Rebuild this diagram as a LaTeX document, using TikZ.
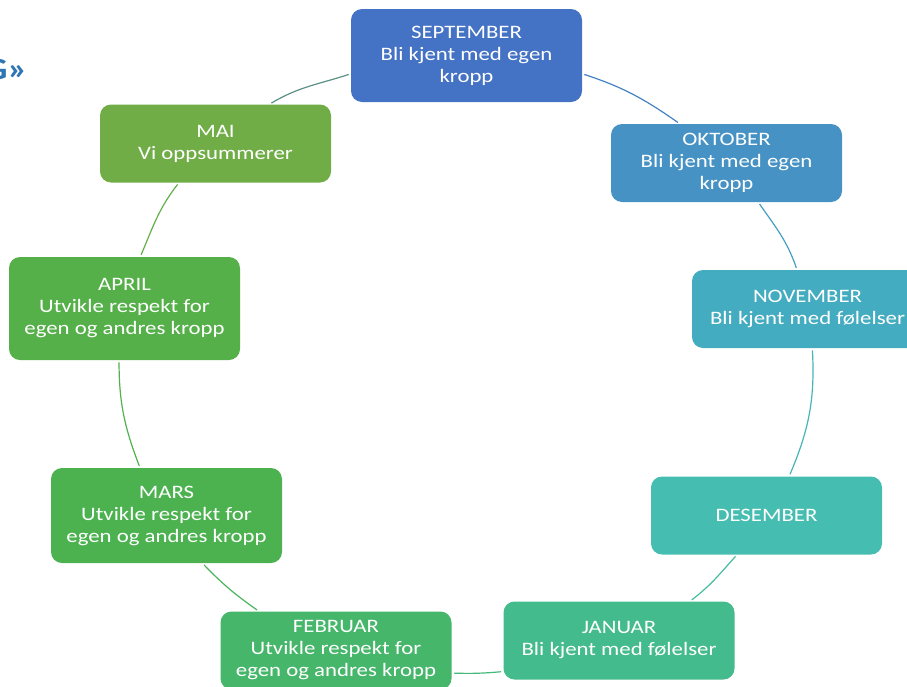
\documentclass[tikz,border=0pt]{standalone}
\usepackage{fontspec}
\setmainfont{Carlito}[FakeStretch=1.2]

\definecolor{sepcol}{RGB}{68,114,196}
\definecolor{oktcol}{RGB}{70,146,196}
\definecolor{novcol}{RGB}{68,172,192}
\definecolor{descol}{RGB}{69,189,176}
\definecolor{jancol}{RGB}{68,187,140}
\definecolor{febcol}{RGB}{69,182,106}
\definecolor{marcol}{RGB}{76,178,80}
\definecolor{aprcol}{RGB}{86,176,74}
\definecolor{maicol}{RGB}{112,173,71}
\definecolor{titleblue}{RGB}{46,117,182}

\tikzset{every picture/.style={line width=0.75pt}}
\tikzset{
  month/.style={rectangle, rounded corners=11pt, minimum width=231pt, minimum height=78pt,
    inner sep=2pt, align=center, text=white, font=\fontsize{19}{22}\selectfont},
  ring/.style={line width=1.2pt, shorten <=2pt, shorten >=2pt},
}

\begin{document}
\begin{tikzpicture}[x=1pt,y=1pt,yscale=-1,xscale=1]
	\useasboundingbox (0,0) rectangle (907,686);
	
	% Title (cut off)
	\node [anchor=base east, inner sep=0pt, text=titleblue, font=\bfseries\fontsize{31}{33}\selectfont] (title) at (28,79) {G»};
	
	% Month boxes
	\node [month, fill=sepcol, minimum height=93pt] (sep) at (466.5,55.5) {SEPTEMBER\\Bli kjent med egen\\kropp};
	\node [month, fill=oktcol] (okt) at (726.5,163) {OKTOBER\\Bli kjent med egen\\kropp};
	\node [month, fill=novcol] (nov) at (807.5,309) {NOVEMBER\\Bli kjent med følelser};
	\node [month, fill=descol] (des) at (766.5,515.5) {DESEMBER};
	\node [month, fill=jancol] (jan) at (619,640.5) {JANUAR\\Bli kjent med følelser};
	\node [month, fill=febcol] (feb) at (336,650.5) {FEBRUAR\\Utvikle respekt for\\egen og andres kropp};
	\node [month, fill=marcol, minimum height=95pt] (mar) at (166.5,515.5) {MARS\\Utvikle respekt for\\egen og andres kropp};
	\node [month, fill=aprcol, minimum height=103pt] (apr) at (124.5,308.5) {APRIL\\Utvikle respekt for\\egen og andres kropp};
	\node [month, fill=maicol] (mai) at (215.5,143.5) {MAI\\Vi oppsummerer};
	
	% Ring segments
	\draw [ring, draw=sepcol!50!oktcol] (sep.-9) to[out=18, in=215] (okt.140);
	\draw [ring, draw=oktcol!50!novcol] (okt.-51) to[out=55, in=251] (nov.105);
	\draw [ring, draw=novcol!50!descol] (nov.-83) to[out=87, in=293] (des.60);
	\draw [ring, draw=descol!50!jancol] (des.233) to[out=132, in=323] (jan.29);
	\draw [ring, draw=jancol!50!febcol] (jan.195) to[out=175, in=2] (feb.-11);
	\draw [ring, draw=febcol!50!marcol] (feb.153) to[out=215, in=46] (mar.-53);
	\draw [ring, draw=marcol!50!aprcol] (mar.119) to[out=249, in=90] (apr.264);
	\draw [ring, draw=aprcol!50!maicol] (apr.73) to[out=293, in=128] (mai.227);
	\draw [ring, draw=maicol!50!sepcol] (mai.36) to[out=329, in=162] (sep.189);
	
\end{tikzpicture}
\end{document}
